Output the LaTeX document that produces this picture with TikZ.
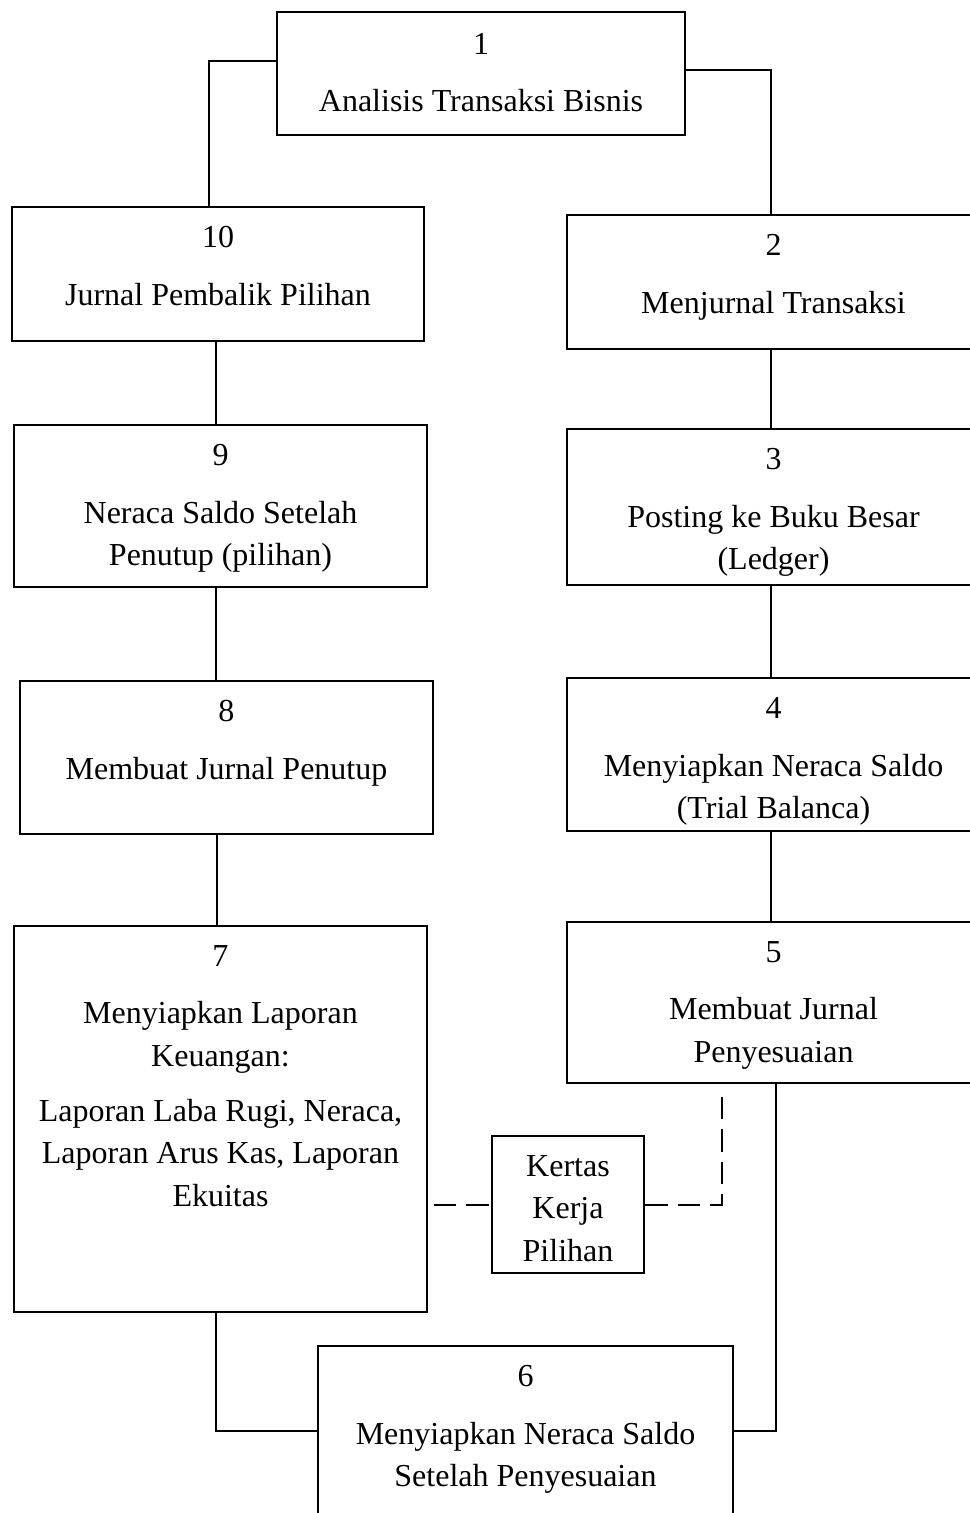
\documentclass[tikz,border=0pt]{standalone}
\usepackage{fontspec}
\setmainfont{Liberation Serif}
\usetikzlibrary{positioning}

\begin{document}
\begin{tikzpicture}[x=0.4pt, y=-0.4pt,
    stepbox/.style={draw, rectangle, line width=0.8pt, inner sep=0pt, minimum width=165pt},
    steptext/.style={align=center, inner sep=0pt, anchor=north, font=\fontsize{12.8}{17}\selectfont},
    link/.style={line width=0.8pt},
    optlink/.style={line width=0.8pt, dash pattern=on 9pt off 4pt}]
            \useasboundingbox (0,0) rectangle (970,1513);
            \clip (0,0) rectangle (970,1513);

            % Left column
            \node [stepbox, minimum width=163.2pt, minimum height=49.2pt] (b1) at (481,73.5) {};
            \node [steptext] (t1) at ([yshift=-8.6pt]b1.north) {1\\[6pt]Analisis Transaksi Bisnis};
            \node [stepbox, minimum width=164.8pt, minimum height=53.6pt] (b10) at (218,274) {};
            \node [steptext] (t10) at ([yshift=-8pt]b10.north) {10\\[6pt]Jurnal Pembalik Pilihan};
            \node [stepbox, minimum height=64.8pt] (b9) at (220.5,506) {};
            \node [steptext] (t9) at ([yshift=-8pt]b9.north) {9\\[6pt]Neraca Saldo Setelah\\Penutup (pilihan)};
            \node [stepbox, minimum height=61.2pt] (b8) at (226.5,757.5) {};
            \node [steptext] (t8) at ([yshift=-8pt]b8.north) {8\\[6pt]Membuat Jurnal Penutup};
            \node [stepbox, minimum height=154.4pt] (b7) at (220.5,1119) {};
            \node [steptext] (t7) at ([yshift=-8pt]b7.north) {7\\[6pt]Menyiapkan Laporan\\Keuangan:\\[5pt]Laporan Laba Rugi, Neraca,\\Laporan Arus Kas, Laporan\\Ekuitas};

            % Right column
            \node [stepbox, minimum height=53.6pt] (b2) at (773.5,282) {};
            \node [steptext] (t2) at ([yshift=-8pt]b2.north) {2\\[6pt]Menjurnal Transaksi};
            \node [stepbox, minimum height=62.4pt] (b3) at (773.5,507) {};
            \node [steptext] (t3) at ([yshift=-8pt]b3.north) {3\\[6pt]Posting ke Buku Besar\\(Ledger)};
            \node [stepbox, minimum height=61.2pt] (b4) at (773.5,754.5) {};
            \node [steptext] (t4) at ([yshift=-8pt]b4.north) {4\\[6pt]Menyiapkan Neraca Saldo\\(Trial Balanca)};
            \node [stepbox, minimum height=64.4pt] (b5) at (773.5,1002.5) {};
            \node [steptext] (t5) at ([yshift=-8pt]b5.north) {5\\[6pt]Membuat Jurnal\\Penyesuaian};

            % Bottom and worksheet
            \node [stepbox, minimum width=166pt, minimum height=68pt] (b6) at (525.5,1431) {};
            \node [steptext] (t6) at ([yshift=-8pt]b6.north) {6\\[6pt]Menyiapkan Neraca Saldo\\Setelah Penyesuaian};
            \node [stepbox, minimum width=60.8pt, minimum height=54.8pt] (bk) at (568,1204.5) {};
            \node [steptext] (tk) at ([yshift=-8pt]bk.north) {Kertas\\Kerja\\Pilihan};
            \coordinate (k5) at (722,1097);

            % Links
            \draw [link] ([yshift=5pt]b1.west) -| ([xshift=-3.6pt]b10.north);
            \draw [link] ([yshift=1.4pt]b1.east) -| ([xshift=-1pt]b2.north);
            \draw [link] ([xshift=-1pt]b2.south) -- ([xshift=-1pt]b3.north);
            \draw [link] ([xshift=-1pt]b3.south) -- ([xshift=-1pt]b4.north);
            \draw [link] ([xshift=-1pt]b4.south) -- ([xshift=-1pt]b5.north);
            \draw [link] ([xshift=1pt]b5.south) |- (b6.east);
            \draw [link] ([xshift=-1pt]b10.south) -- ([xshift=-1pt]b10.south |- b9.north);
            \draw [link] ([xshift=-1.8pt]b9.south) -- ([xshift=-1.8pt]b9.south |- b8.north);
            \draw [link] ([xshift=-4pt]b8.south) -- ([xshift=-4pt]b8.south |- b7.north);
            \draw [link] ([xshift=-1.8pt]b7.south) |- (b6.west);

            % Optional worksheet
            \draw [optlink] ([xshift=2.4pt]b7.east |- bk.west) -- (bk.west);
            \draw [optlink] (bk.east) -| (k5);
        \end{tikzpicture}
\end{document}
